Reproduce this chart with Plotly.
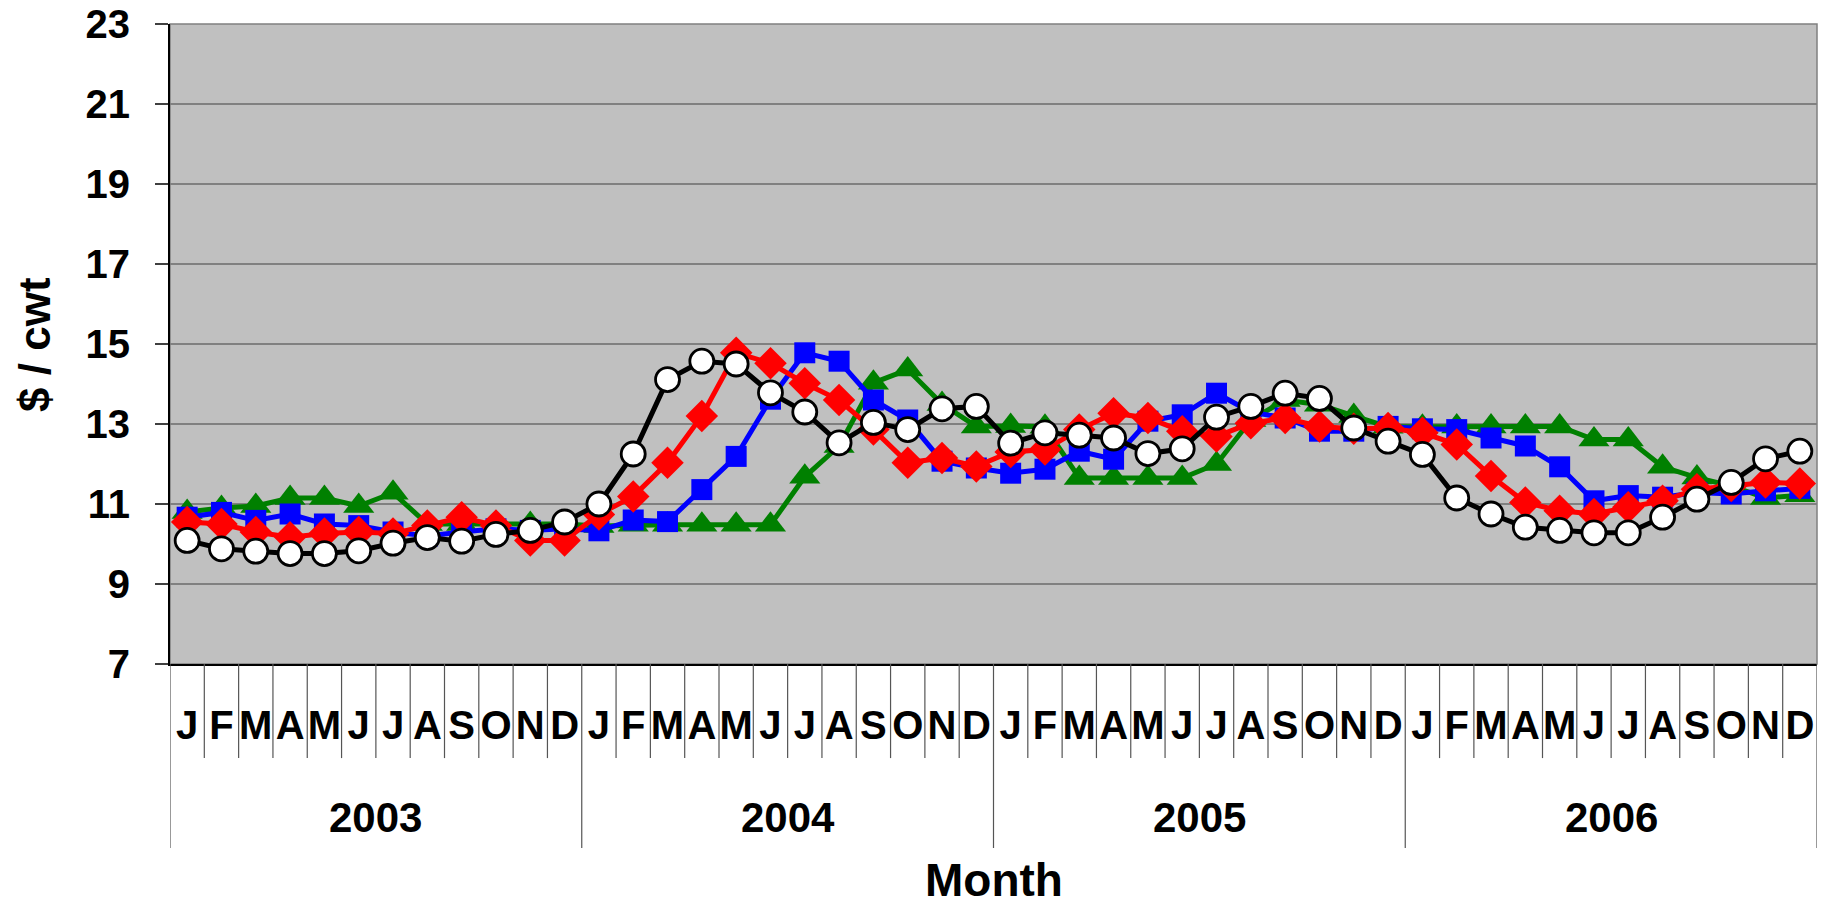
import plotly.graph_objects as go

years = ["2003", "2004", "2005", "2006"]
month_letters = ["J", "F", "M", "A", "M", "J", "J", "A", "S", "O", "N", "D"]

green_vals = [10.80, 10.90, 10.95, 11.15, 11.15, 10.95, 11.28, 10.50, 10.50, 10.50, 10.50, 10.50,
              10.45, 10.48, 10.48, 10.48, 10.48, 10.48, 11.68, 12.45, 14.03, 14.36, 13.50, 12.94,
              12.95, 12.93, 11.65, 11.65, 11.65, 11.65, 12.00, 13.10, 13.60, 13.48, 13.20, 12.93,
              12.93, 12.94, 12.94, 12.94, 12.94, 12.61, 12.61, 11.93, 11.66, 11.45, 11.15, 11.22]

blue_vals = [10.67, 10.79, 10.59, 10.75, 10.50, 10.46, 10.30, 10.20, 10.30, 10.38, 10.34, 10.38,
             10.33, 10.60, 10.56, 11.36, 12.19, 13.62, 14.78, 14.57, 13.60, 13.10, 12.07, 11.90,
             11.77, 11.87, 12.32, 12.12, 13.07, 13.23, 13.77, 13.30, 13.15, 12.82, 12.82, 12.94,
             12.88, 12.86, 12.65, 12.45, 11.93, 11.08, 11.21, 11.17, 11.29, 11.25, 11.33, 11.39]

red_vals = [10.55, 10.50, 10.30, 10.17, 10.26, 10.30, 10.26, 10.46, 10.67, 10.46, 10.09, 10.09,
            10.74, 11.19, 12.03, 13.20, 14.78, 14.52, 14.02, 13.60, 12.86, 12.03, 12.15, 11.94,
            12.30, 12.36, 12.86, 13.27, 13.15, 12.82, 12.69, 13.02, 13.15, 12.94, 12.88, 12.90,
            12.78, 12.49, 11.70, 11.04, 10.83, 10.75, 10.92, 11.08, 11.37, 11.45, 11.54, 11.51]

black_vals = [10.09, 9.88, 9.82, 9.76, 9.76, 9.83, 10.02, 10.16, 10.07, 10.24, 10.34, 10.55,
              11.00, 12.25, 14.11, 14.57, 14.50, 13.78, 13.30, 12.53, 13.04, 12.86, 13.38, 13.44,
              12.52, 12.78, 12.72, 12.65, 12.26, 12.38, 13.17, 13.44, 13.77, 13.64, 12.90, 12.57,
              12.24, 11.15, 10.75, 10.42, 10.34, 10.28, 10.28, 10.67, 11.12, 11.54, 12.13, 12.32]

y_ticks = [7, 9, 11, 13, 15, 17, 19, 21, 23]

n = len(years) * len(month_letters)
xidx = list(range(n))
tick_text = month_letters * len(years)

FONT = "Liberation Sans, Arial, sans-serif"

fig = go.Figure()

series = [
    ("Series 1", green_vals, dict(symbol="triangle-up", size=27, color="#008000"), "#008000"),
    ("Series 2", blue_vals, dict(symbol="square", size=21, color="#0000FF"), "#0000FF"),
    ("Series 3", red_vals, dict(symbol="diamond", size=25, color="#FF0000"), "#FF0000"),
    ("Series 4", black_vals, dict(symbol="circle", size=24, color="#FFFFFF",
                                  line=dict(color="#000000", width=2.8)), "#000000"),
]
for name, vals, mk, lc in series:
    fig.add_trace(go.Scatter(x=xidx, y=vals, name=name, mode="lines+markers",
                             line=dict(color=lc, width=5), marker=mk, cliponaxis=False))

shapes = []
# month dividers
for i in range(n + 1):
    is_year = (i % 12 == 0)
    shapes.append(dict(type="line", xref="x", yref="paper", x0=i - 0.5, x1=i - 0.5,
                       y0=0, y1=-0.2875 if is_year else -0.147,
                       line=dict(color="#555555", width=1.2)))
# plot-area border
shapes.append(dict(type="rect", xref="paper", yref="paper", x0=0, x1=1, y0=0, y1=1,
                   line=dict(color="#808080", width=1.5), layer="below"))

annotations = []
for k, yr in enumerate(years):
    annotations.append(dict(x=k * 12 + 5.5, y=-0.24, xref="x", yref="paper", text=yr,
                            showarrow=False, yanchor="middle", xanchor="center",
                            font=dict(family=FONT, size=42, color="black", weight="bold")))
annotations.append(dict(x=0.5, y=-0.38, xref="paper", yref="paper", text="Month",
                        showarrow=False, yanchor="bottom", xanchor="center", borderpad=0,
                        font=dict(family=FONT, size=46, color="black", weight="bold")))
annotations.append(dict(x=-0.0826, y=0.5, xref="paper", yref="paper", text="$ / cwt",
                        showarrow=False, textangle=-90, yanchor="middle", xanchor="center",
                        font=dict(family=FONT, size=44, color="black", weight="bold")))

# the page body adds an 8px offset, so the figure is 8px smaller on each axis
fig.update_layout(
    width=1824, height=900,
    margin=dict(l=162, r=15, t=16, b=244, autoexpand=False),
    paper_bgcolor="white", plot_bgcolor="#C0C0C0",
    showlegend=False,
    shapes=shapes, annotations=annotations,
    xaxis=dict(range=[-0.5, n - 0.5], tickmode="array", tickvals=xidx, ticktext=tick_text,
               automargin=False, ticklabeloverflow="allow",
               showgrid=False, zeroline=False, showline=True, linecolor="black", linewidth=2,
               ticks="outside", ticklen=1, tickcolor="rgba(0,0,0,0)", ticklabelstandoff=24,
               tickfont=dict(family=FONT, size=40, color="black", weight="bold")),
    yaxis=dict(range=[7, 23], tickmode="array", tickvals=y_ticks, automargin=False,
               ticklabeloverflow="allow",
               showgrid=True, gridcolor="#808080", gridwidth=1.5, zeroline=False,
               showline=True, linecolor="black", linewidth=2,
               ticks="outside", ticklen=13, tickcolor="#404040", tickwidth=1.5,
               ticklabelstandoff=17,
               tickfont=dict(family=FONT, size=40, color="black", weight="bold")),
)

fig.write_html("out.html")
